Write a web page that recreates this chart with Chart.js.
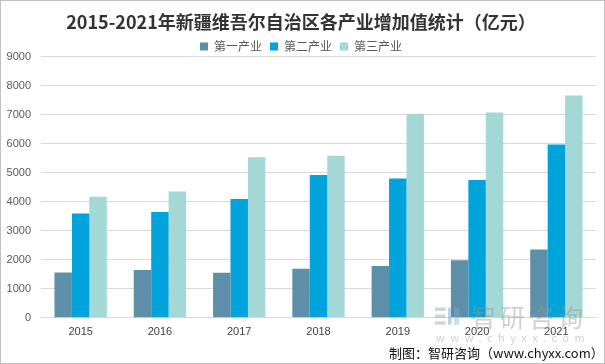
<!DOCTYPE html>
<html><head><meta charset="utf-8">
<script src="https://cdn.jsdelivr.net/npm/chart.js@4/dist/chart.umd.min.js"></script>
<style>
html,body{margin:0;padding:0;background:#fff;}
#wrap{position:relative;width:605px;height:364px;box-sizing:border-box;border:1px solid #bfbfbf;overflow:hidden;}
canvas{position:absolute;left:0;top:0;}
#wm{position:absolute;left:434px;top:300px;color:rgba(150,150,150,0.45);font-family:"Noto Sans CJK SC";white-space:nowrap;}
#wm .big{font-size:25px;letter-spacing:4px;line-height:30px;padding-left:36px;}
#wm .small{font-size:11px;letter-spacing:5.5px;line-height:12px;padding-left:1px;}
#logo{position:absolute;left:434px;top:304px;width:26px;height:24px;}
#footer{position:absolute;left:388px;top:342px;font-family:"Noto Sans CJK SC";font-size:13px;color:#111;white-space:nowrap;}
</style></head>
<body><div id="wrap"><canvas id="c" width="603" height="362"></canvas>
<div id="wm"><div class="big">智研咨询</div><div class="small">www.chyxx.com</div></div>
<svg id="logo" viewBox="0 0 30 26"><rect x="0" y="2" width="12" height="4" fill="rgba(150,160,180,0.45)"/><rect x="0" y="10" width="12" height="4" fill="rgba(150,160,180,0.45)"/><rect x="0" y="18" width="12" height="4" fill="rgba(150,160,180,0.45)"/><rect x="15" y="2" width="4" height="20" fill="rgba(120,170,220,0.5)"/><rect x="22" y="2" width="6" height="20" fill="rgba(120,170,220,0.4)"/></svg>
<div id="footer">制图：智研咨询（www.chyxx.com）</div>
</div>
<script>
const categories = ["2015","2016","2017","2018","2019","2020","2021"];
const primary   = [1559,1648,1551,1692,1782,1982,2356];
const secondary = [3596,3648,4091,4923,4796,4744,5967];
const tertiary  = [4169,4355,5529,5584,7018,7071,7661];
const seriesNames = ["第一产业","第二产业","第三产业"];
const yTicks = [0,1000,2000,3000,4000,5000,6000,7000,8000,9000];

const colors = ["#5E8FA8","#00A3DA","#A3D8D6"];
const legendShrink = {
  id: 'legendShrink',
  beforeInit(chart) {
    const origFit = chart.legend.fit;
    chart.legend.fit = function () { origFit.call(this); this.height -= 6; };
  }
};
const ctx = document.getElementById('c');
new Chart(ctx, {
  type: 'bar',
  plugins: [legendShrink],
  data: {
    labels: categories,
    datasets: [
      {label: seriesNames[0], data: primary, backgroundColor: colors[0]},
      {label: seriesNames[1], data: secondary, backgroundColor: colors[1]},
      {label: seriesNames[2], data: tertiary, backgroundColor: colors[2]}
    ]
  },
  options: {
    responsive: false,
    animation: false,
    devicePixelRatio: 1,
    layout: {padding: {left: 5, right: 8, top: 8, bottom: 16}},
    datasets: {bar: {categoryPercentage: 0.66, barPercentage: 1.0}},
    plugins: {
      title: {display: true, text: "2015-2021年新疆维吾尔自治区各产业增加值统计（亿元）",
        color: "#333333", font: {family: "Noto Sans CJK SC", size: 18, weight: 'bold'}, padding: {top: 2, bottom: 0}},
      legend: {display: true, position: 'top',
        labels: {boxWidth: 8, boxHeight: 8, color: "#595959", padding: 8,
          font: {family: "Noto Sans CJK SC", size: 12}}},
      tooltip: {enabled: false}
    },
    scales: {
      x: {
        grid: {display: false, drawTicks: false},
        border: {display: true, color: "#d9d9d9", width: 1},
        ticks: {color: "#404040", font: {family: "Liberation Sans", size: 11}, padding: 8}
      },
      y: {
        min: 0, max: 9000,
        afterBuildTicks: (s) => { s.ticks = yTicks.map(v => ({value: v})); },
        afterFit: (s) => { s.width = 35; },
        grid: {color: "#d9d9d9", drawTicks: false, lineWidth: 1},
        border: {display: false},
        ticks: {color: "#595959", font: {family: "Liberation Sans", size: 11}, padding: 10,
          callback: (v) => String(v)}
      }
    }
  }
});
</script>
</body></html>
